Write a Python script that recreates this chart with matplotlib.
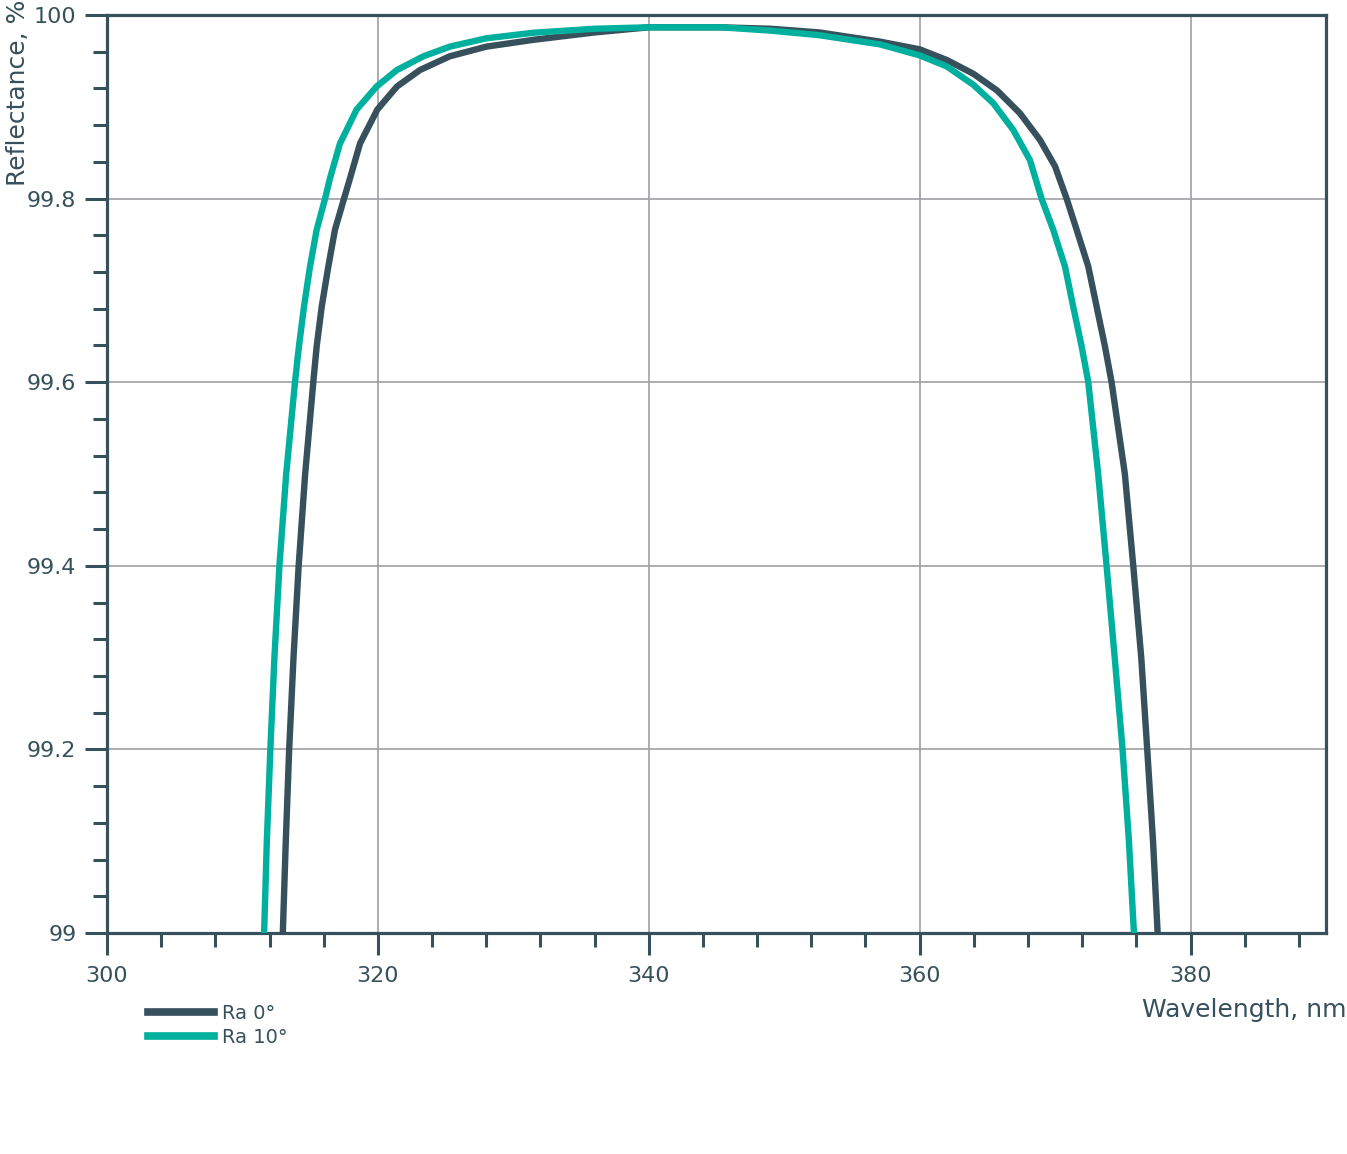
import matplotlib
matplotlib.use('Agg')
import matplotlib.pyplot as plt
from matplotlib.ticker import MultipleLocator, FuncFormatter

# Datos (longitud de onda en nm, reflectancia en %)
wl_0 = [312.98, 313.2, 313.45, 313.77, 314.15, 314.63, 315.23, 315.48, 315.85,
        316.34, 316.83, 317.5, 317.94, 318.68, 319.96, 321.4, 323.1, 325.3, 328.0,
        331.5, 336.0, 340.0, 345.3, 349.0, 352.6, 357.07, 360.0, 362.0, 363.96,
        365.7, 367.4, 368.88, 370.0, 370.85, 371.59, 372.45, 373.07, 373.68,
        374.17, 375.15, 375.77, 376.36, 376.8, 377.23, 377.57]
r_0 = [99.0, 99.1, 99.2, 99.3, 99.4, 99.5, 99.6, 99.639, 99.682,
       99.726, 99.766, 99.8, 99.822, 99.86, 99.897, 99.922, 99.94, 99.955, 99.9655,
       99.973, 99.981, 99.9866, 99.9866, 99.985, 99.981, 99.971, 99.9626, 99.951, 99.936,
       99.918, 99.893, 99.864, 99.835, 99.8, 99.766, 99.726, 99.682, 99.639,
       99.6, 99.5, 99.4, 99.3, 99.2, 99.1, 99.0]

wl_10 = [311.6, 311.8, 312.06, 312.36, 312.73, 313.23, 313.88, 314.17, 314.54,
         314.99, 315.48, 316.1, 316.46, 317.2, 318.43, 319.9, 321.4, 323.36, 325.3,
         328.0, 331.5, 336.0, 340.0, 345.3, 349.0, 352.6, 357.07, 360.0, 362.0,
         363.96, 365.43, 366.9, 368.14, 369.0, 369.86, 370.73, 371.34, 371.96,
         372.45, 373.18, 373.8, 374.4, 374.98, 375.45, 375.82]
r_10 = [99.0, 99.1, 99.2, 99.3, 99.4, 99.5, 99.6, 99.639, 99.682,
        99.726, 99.766, 99.8, 99.822, 99.86, 99.897, 99.922, 99.94, 99.955, 99.9655,
        99.9746, 99.9807, 99.985, 99.9866, 99.9866, 99.983, 99.978, 99.968, 99.956, 99.944,
        99.924, 99.904, 99.875, 99.842, 99.8, 99.766, 99.726, 99.682, 99.639,
        99.6, 99.5, 99.4, 99.3, 99.2, 99.1, 99.0]

labels = ['Ra 0°', 'Ra 10°']

DARK = '#36505c'
TEAL = '#00b09f'
GRIS = '#a0a0a4'

plt.rcParams['font.family'] = 'DejaVu Sans'

fig = plt.figure(figsize=(13.47, 11.54), dpi=100)
ax = fig.add_axes([107/1347, 1 - 933/1154, (1326-107)/1347, (933-15)/1154])

ax.plot(wl_0, r_0, color=DARK, lw=4.6, label=labels[0], solid_joinstyle='round', zorder=3)
ax.plot(wl_10, r_10, color=TEAL, lw=4.6, label=labels[1], solid_joinstyle='round', zorder=3)

ax.set_xlim(300, 390)
ax.set_ylim(99, 100)

ax.xaxis.set_major_locator(MultipleLocator(20))
ax.xaxis.set_minor_locator(MultipleLocator(4))
ax.yaxis.set_major_locator(MultipleLocator(0.2))
ax.yaxis.set_minor_locator(MultipleLocator(0.04))
ax.yaxis.set_major_formatter(FuncFormatter(lambda v, p: '%g' % round(v, 2)))

ax.grid(which='major', color=GRIS, lw=1.2, zorder=0)
ax.set_axisbelow(True)

for s in ax.spines.values():
    s.set_color(DARK)
    s.set_linewidth(2.3)

ax.tick_params(which='both', colors=DARK, width=2.2, labelsize=16, direction='out')
ax.tick_params(which='major', length=16, pad=6)
ax.tick_params(which='minor', length=10)
ax.tick_params(axis='x', which='major', pad=8)

fig.text(18/1347, 1 - 0/1154, 'Reflectance, %', rotation=90, ha='center', va='top',
         fontsize=18, color=DARK)
fig.text(1346/1347, 1 - 1010/1154, 'Wavelength, nm', ha='right', va='center',
         fontsize=18, color=DARK)

leg = ax.legend(loc='upper left', bbox_to_anchor=(140/1347, 1 - 996/1154),
                bbox_transform=fig.transFigure, frameon=False, fontsize=14,
                handlelength=3.4, handletextpad=0.4, labelspacing=0.25,
                borderaxespad=0, labelcolor=DARK)
for ln in leg.get_lines():
    ln.set_linewidth(5.5)

fig.savefig('out.png', dpi=100)
